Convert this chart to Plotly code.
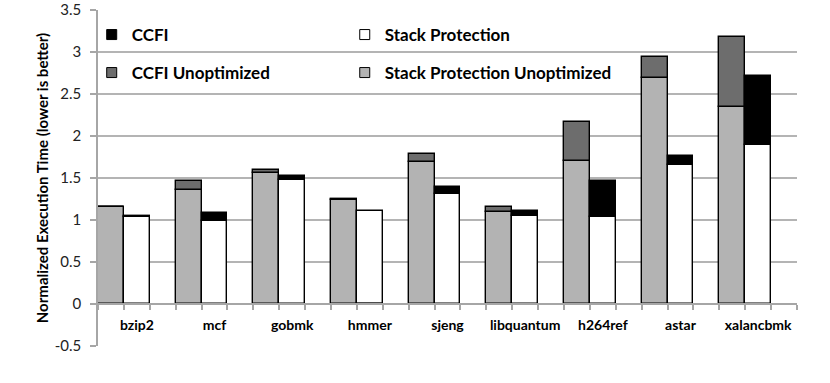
import plotly.graph_objects as go

benchmarks = ["bzip2", "mcf", "gobmk", "hmmer", "sjeng", "libquantum", "h264ref", "astar", "xalancbmk"]
# Unoptimized bars (left of each pair)
stack_unopt = [1.15, 1.36, 1.56, 1.24, 1.69, 1.10, 1.70, 2.69, 2.34]
ccfi_unopt_extra = [0.01, 0.10, 0.03, 0.01, 0.09, 0.06, 0.47, 0.25, 0.84]
# Optimized bars (right of each pair)
stack_opt = [1.04, 0.99, 1.48, 1.11, 1.31, 1.05, 1.04, 1.66, 1.89]
ccfi_extra = [0.01, 0.09, 0.04, -0.01, 0.08, 0.06, 0.42, 0.10, 0.82]

y_tickvals = [-0.5, 0, 0.5, 1, 1.5, 2, 2.5, 3, 3.5]
y_ticktext = ["-0.5", "0", "0.5", "1", "1.5", "2", "2.5", "3", "3.5"]

n = len(benchmarks)
x_unopt = [3 * i for i in range(n)]
x_opt = [3 * i + 1 for i in range(n)]

FONT = "Lato, 'Open Sans', sans-serif"
LIGHT = "#b3b3b3"
DARK = "#6d6d6d"
AXIS = "#a6a6a6"
line = dict(color="black", width=1.4)

fig = go.Figure()
fig.add_trace(go.Bar(x=x_unopt, y=stack_unopt, width=1, marker=dict(color=LIGHT, line=line),
                     showlegend=False, name="Stack Protection Unoptimized"))
fig.add_trace(go.Bar(x=x_unopt, y=ccfi_unopt_extra, width=1, marker=dict(color=DARK, line=line),
                     showlegend=False, name="CCFI Unoptimized"))
fig.add_trace(go.Bar(x=x_opt, y=stack_opt, width=1, marker=dict(color="white", line=line),
                     showlegend=False, name="Stack Protection"))
fig.add_trace(go.Bar(x=x_opt, y=ccfi_extra, width=1, marker=dict(color="black", line=line),
                     showlegend=False, name="CCFI"))

# legend entries, each in its own legend box (2x2 grid)
legend_items = [
    ("CCFI", "black", "legend", -0.009, 35),
    ("Stack Protection", "white", "legend2", 0.353, 35),
    ("CCFI Unoptimized", DARK, "legend3", -0.009, 73),
    ("Stack Protection Unoptimized", LIGHT, "legend4", 0.353, 73),
]
legend_layout = {}
for name, color, lg, lx, ly in legend_items:
    fig.add_trace(go.Scatter(x=[None], y=[None], mode="markers", name=name, legend=lg,
                             marker=dict(symbol="square", size=10, color=color,
                                         line=dict(color="black", width=1))))
    legend_layout[lg] = dict(
        x=lx, y=1 - (ly - 10) / 336, xanchor="left", yanchor="middle",
        orientation="h", bgcolor="rgba(0,0,0,0)",
        font=dict(family=FONT, size=17, color="black", weight="bold"),
    )

fig.update_layout(
    width=830, height=383,
    margin=dict(l=98, r=33, t=10, b=37, autoexpand=False),
    paper_bgcolor="white", plot_bgcolor="white",
    barmode="relative", bargap=0,
    font=dict(family=FONT, color="#222"),
    xaxis=dict(
        range=[-0.5, 26.5], anchor="free", position=0.125, automargin=False,
        tickmode="array", tickvals=[3 * i + 1 for i in range(n)], ticktext=benchmarks,
        ticks="", showgrid=False, zeroline=False,
        showline=True, linecolor=AXIS, linewidth=1.5,
        tickfont=dict(family=FONT, size=14, color="black", weight="bold"),
        ticklabelstandoff=8,
        minor=dict(tickmode="array", tickvals=[k - 0.5 for k in range(28)], ticks="outside",
                   ticklen=5, tickcolor=AXIS, tickwidth=1.5, showgrid=False),
    ),
    yaxis=dict(
        range=[-0.5, 3.5], tickmode="array", tickvals=y_tickvals, ticktext=y_ticktext,
        automargin=False, ticklabeloverflow="allow",
        ticks="outside", ticklen=6, tickcolor=AXIS, tickwidth=1.5,
        showline=True, linecolor=AXIS, linewidth=1.5,
        showgrid=True, gridcolor="#b4b4b4", gridwidth=1.5, zeroline=False,
        tickfont=dict(family=FONT, size=15, color="#222"),
        ticklabelstandoff=6,
        title=dict(text="Normalized Execution Time (lower is better)",
                   font=dict(family=FONT, size=15, color="black", weight="bold"), standoff=2),
    ),
    **legend_layout,
)

# remove the default page margin so the figure sits at the window's top-left corner
fig.write_html("out.html", config={"displayModeBar": False},
               post_script="document.body.style.margin='0';")
